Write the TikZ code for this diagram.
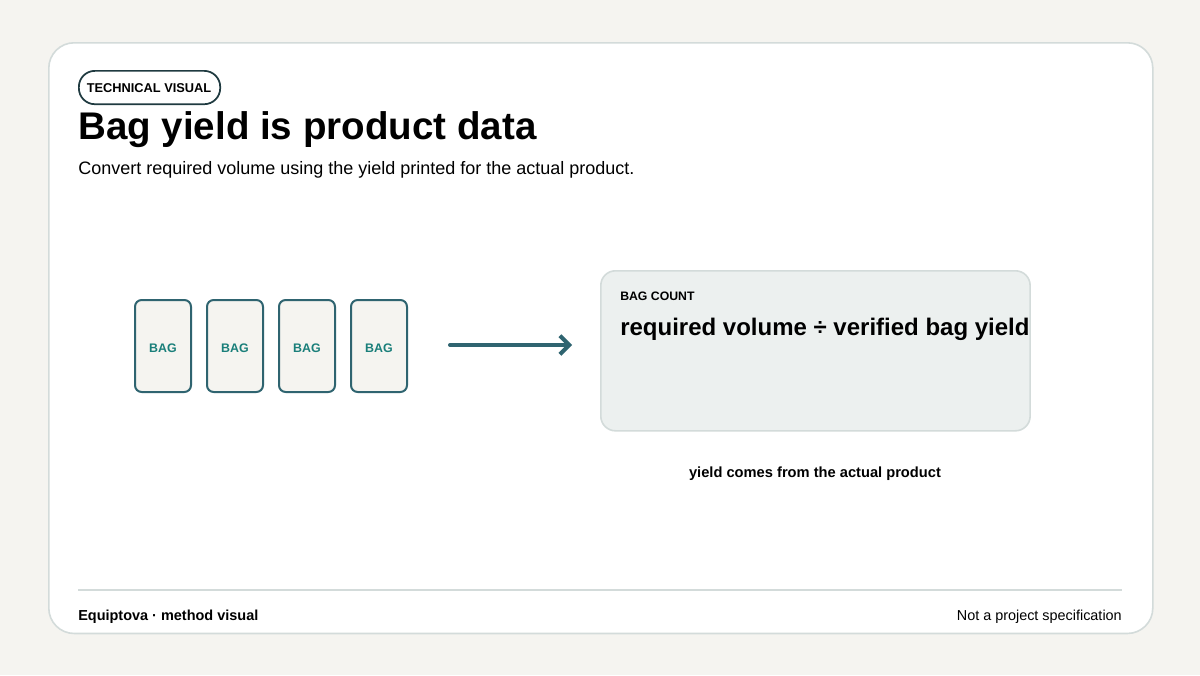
\documentclass[tikz,border=0pt]{standalone}
\usepackage{fontspec}
\setmainfont{Liberation Sans}
\usetikzlibrary{arrows.meta}
\definecolor{bgc}{HTML}{F5F4F0}
\definecolor{edge}{HTML}{D3DBDA}
\definecolor{dark}{HTML}{1F3A40}
\definecolor{bagst}{HTML}{2F6470}
\definecolor{teal}{HTML}{1A7F7A}
\definecolor{boxf}{HTML}{ECF0EF}
\tikzset{
  bag/.style={draw=bagst,line width=1.5pt,fill=bgc,rounded corners=5pt,minimum width=42pt,minimum height=69pt,inner sep=0pt},
  bagt/.style={inner sep=0pt,anchor=base,font=\bfseries\fontsize{9.3}{11}\selectfont,text=teal},
  txt/.style={inner sep=0pt,anchor=base west}
}
\begin{document}
\begin{tikzpicture}[x=0.75pt,y=-0.75pt]
\fill[bgc] (0,0) rectangle (1200,675);
\useasboundingbox (0,0) rectangle (1200,675);
\node[draw=edge,line width=1.2pt,fill=white,rounded corners=19pt,minimum width=828pt,minimum height=443pt,anchor=north west] (card) at (48,42) {};
\node[draw=dark,line width=1.3pt,rounded corners=12pt,minimum width=106pt,minimum height=25pt,inner sep=0pt,anchor=north west] (pill) at (78,70) {};
\node[inner sep=0pt,anchor=base,font=\bfseries\fontsize{9.6}{12}\selectfont] (pt) at (149,92.5) {TECHNICAL VISUAL};
\node[txt,font=\bfseries\fontsize{28.9}{36}\selectfont] (title) at (78,139) {Bag yield is product data};
\node[txt,font=\fontsize{13.5}{16}\selectfont] (sub) at (78,174) {Convert required volume using the yield printed for the actual product.};
\foreach \i/\x in {1/163,2/235,3/307,4/379}{
  \node[bag] (b\i) at (\x,346) {};
  \node[bagt] (bt\i) at (\x,352) {BAG};
}
\coordinate (a1) at (450,345);
\coordinate (a2) at (572,345);
\draw[bagst,line width=3pt,line cap=round,-{Straight Barb[length=7pt,width=14pt,line width=3pt]}] (a1) -- (a2);
\node[draw=edge,line width=1.2pt,fill=boxf,rounded corners=11pt,minimum width=322pt,minimum height=120pt,anchor=north west] (box) at (600,270) {};
\node[txt,font=\bfseries\fontsize{9.2}{11}\selectfont] (bc) at (620,300) {BAG COUNT};
\node[txt,font=\bfseries\fontsize{18}{22}\selectfont] (form) at (620,335) {required volume ÷ verified bag yield};
\node[inner sep=0pt,anchor=base,font=\bfseries\fontsize{11}{13}\selectfont] (cap) at (815,477) {yield comes from the actual product};
\coordinate (l1) at (78,590);
\coordinate (l2) at (1122,590);
\draw[edge,line width=1.2pt] (l1) -- (l2);
\node[txt,font=\bfseries\fontsize{10.85}{13}\selectfont] (f1) at (78,620) {Equiptova · method visual};
\node[inner sep=0pt,anchor=base east,font=\fontsize{10.8}{13}\selectfont] (f2) at (1122,620) {Not a project specification};
\end{tikzpicture}
\end{document}
